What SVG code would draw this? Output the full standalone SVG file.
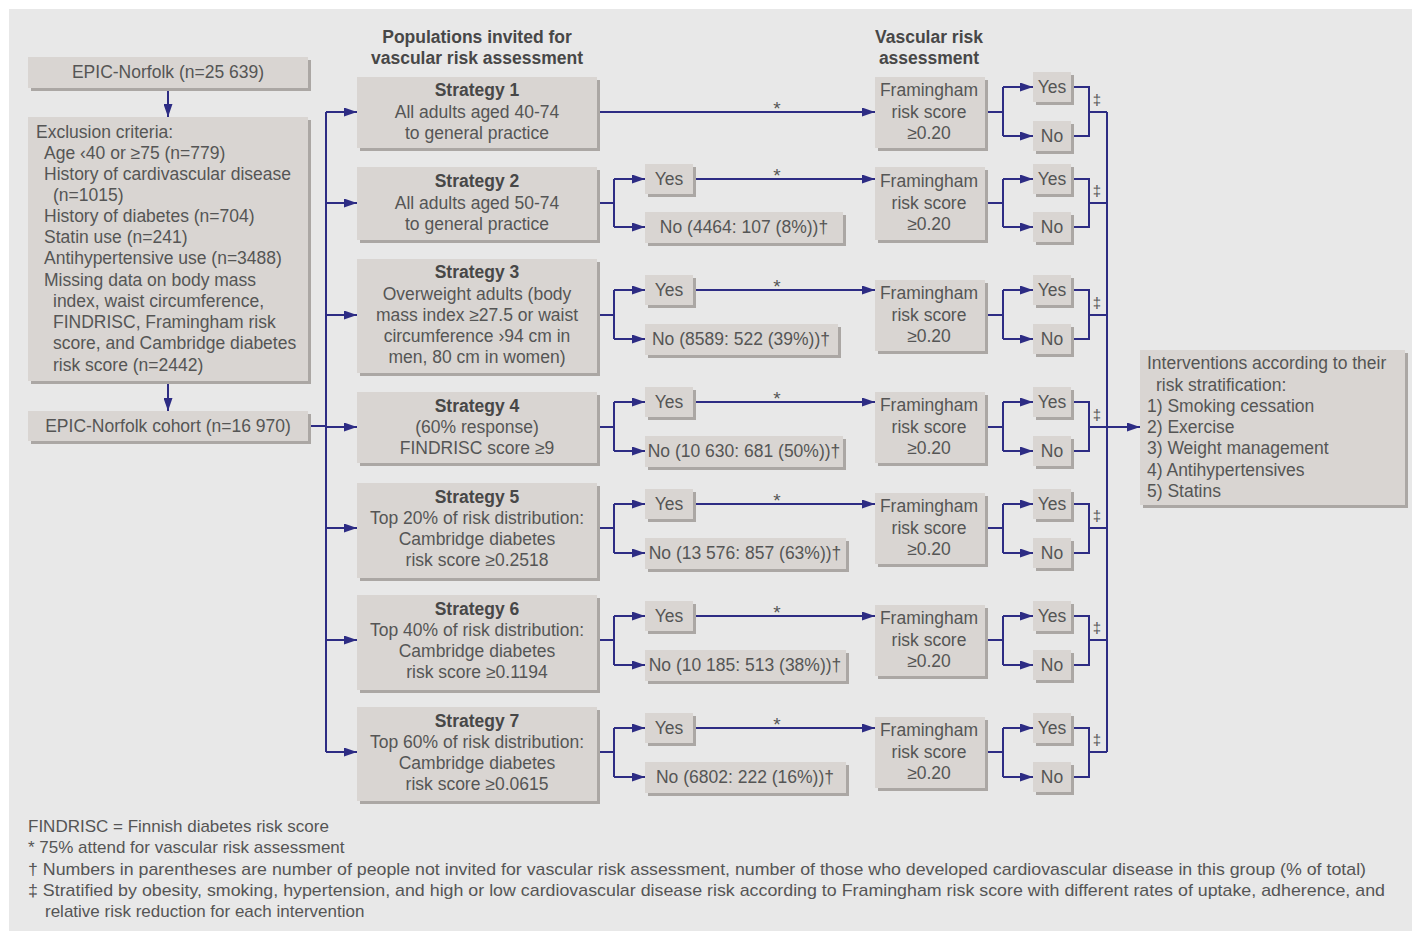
<svg xmlns="http://www.w3.org/2000/svg" width="1412" height="932" viewBox="0 0 1412 932">
<style>
.t{font-family:"Liberation Sans",Arial,sans-serif;font-size:17.5px;fill:#555555}
.c{text-anchor:middle}
.b{font-weight:bold;fill:#474747}
.fn{font-family:"Liberation Sans",Arial,sans-serif;font-size:17px;fill:#555555}
.ast{font-family:"Liberation Sans",Arial,sans-serif;font-size:19px;fill:#555555;text-anchor:middle}
.sym{font-family:"Liberation Sans",Arial,sans-serif;font-size:15px;fill:#555555;text-anchor:middle}
.box{fill:#d9d5d2}
.sh{fill:#aba7a4}
.ln{fill:none;stroke:#2d2c84;stroke-width:2}
.ar{fill:none;stroke:#2d2c84;stroke-width:2;marker-end:url(#ah)}
</style>
<defs>
<marker id="ah" markerUnits="userSpaceOnUse" markerWidth="13" markerHeight="9" refX="13" refY="4.5" orient="auto">
<path d="M0,0 L13,4.5 L0,9 z" fill="#2d2c84"/>
</marker>
</defs>
<rect x="0" y="0" width="1412" height="932" fill="#ffffff"/>
<rect x="9" y="9" width="1403" height="922" fill="#e8e8e8"/>

<g id="headers">
<text class="t c b" x="477" y="43">Populations invited for</text>
<text class="t c b" x="477" y="64">vascular risk assessment</text>
<text class="t c b" x="929" y="43">Vascular risk</text>
<text class="t c b" x="929" y="64">assessment</text>
</g>

<g id="connectors">
<path class="ar" d="M168,88 V117"/>
<path class="ar" d="M168,381 V411"/>
<path class="ln" d="M308,426 H326"/>
<path class="ln" d="M326,112 V752"/>
<path class="ar" d="M326,112 H357"/>
<path class="ar" d="M326,203 H357"/>
<path class="ar" d="M326,315 H357"/>
<path class="ar" d="M326,427 H357"/>
<path class="ar" d="M326,528 H357"/>
<path class="ar" d="M326,640 H357"/>
<path class="ar" d="M326,752 H357"/>
<path class="ar" d="M597,112 H875"/>
<path class="ln" d="M597,203 H614 M614,179 V227"/>
<path class="ar" d="M614,179 H645"/><path class="ar" d="M614,227 H645"/>
<path class="ar" d="M693,179 H875"/>
<path class="ln" d="M597,315 H614 M614,290 V339"/>
<path class="ar" d="M614,290 H645"/><path class="ar" d="M614,339 H645"/>
<path class="ar" d="M693,290 H875"/>
<path class="ln" d="M597,427 H614 M614,402 V451"/>
<path class="ar" d="M614,402 H645"/><path class="ar" d="M614,451 H645"/>
<path class="ar" d="M693,402 H875"/>
<path class="ln" d="M597,528 H614 M614,504 V553"/>
<path class="ar" d="M614,504 H645"/><path class="ar" d="M614,553 H645"/>
<path class="ar" d="M693,504 H875"/>
<path class="ln" d="M597,640 H614 M614,616 V665"/>
<path class="ar" d="M614,616 H645"/><path class="ar" d="M614,665 H645"/>
<path class="ar" d="M693,616 H875"/>
<path class="ln" d="M597,752 H614 M614,728 V777"/>
<path class="ar" d="M614,728 H645"/><path class="ar" d="M614,777 H645"/>
<path class="ar" d="M693,728 H875"/>
<path class="ln" d="M985,112 H1003 M1003,87 V136"/>
<path class="ar" d="M1003,87 H1033"/><path class="ar" d="M1003,136 H1033"/>
<path class="ln" d="M1071,87 H1089 V136 H1071 M1089,112 H1107"/>
<path class="ln" d="M985,203 H1003 M1003,179 V227"/>
<path class="ar" d="M1003,179 H1033"/><path class="ar" d="M1003,227 H1033"/>
<path class="ln" d="M1071,179 H1089 V227 H1071 M1089,203 H1107"/>
<path class="ln" d="M985,315 H1003 M1003,290 V339"/>
<path class="ar" d="M1003,290 H1033"/><path class="ar" d="M1003,339 H1033"/>
<path class="ln" d="M1071,290 H1089 V339 H1071 M1089,315 H1107"/>
<path class="ln" d="M985,427 H1003 M1003,402 V451"/>
<path class="ar" d="M1003,402 H1033"/><path class="ar" d="M1003,451 H1033"/>
<path class="ln" d="M1071,402 H1089 V451 H1071 M1089,427 H1107"/>
<path class="ln" d="M985,528 H1003 M1003,504 V553"/>
<path class="ar" d="M1003,504 H1033"/><path class="ar" d="M1003,553 H1033"/>
<path class="ln" d="M1071,504 H1089 V553 H1071 M1089,528 H1107"/>
<path class="ln" d="M985,640 H1003 M1003,616 V665"/>
<path class="ar" d="M1003,616 H1033"/><path class="ar" d="M1003,665 H1033"/>
<path class="ln" d="M1071,616 H1089 V665 H1071 M1089,640 H1107"/>
<path class="ln" d="M985,752 H1003 M1003,728 V777"/>
<path class="ar" d="M1003,728 H1033"/><path class="ar" d="M1003,777 H1033"/>
<path class="ln" d="M1071,728 H1089 V777 H1071 M1089,752 H1107"/>
<path class="ln" d="M1107,112 V752"/>
<path class="ar" d="M1107,427 H1140"/>
<text class="ast" x="777" y="115">*</text>
<text class="ast" x="777" y="182">*</text>
<text class="ast" x="777" y="293">*</text>
<text class="ast" x="777" y="405">*</text>
<text class="ast" x="777" y="507">*</text>
<text class="ast" x="777" y="619">*</text>
<text class="ast" x="777" y="731">*</text>
<text class="sym" x="1097" y="105">‡</text>
<text class="sym" x="1097" y="196">‡</text>
<text class="sym" x="1097" y="308">‡</text>
<text class="sym" x="1097" y="420">‡</text>
<text class="sym" x="1097" y="521">‡</text>
<text class="sym" x="1097" y="633">‡</text>
<text class="sym" x="1097" y="745">‡</text>
</g>

<g id="epic">
<rect class="sh" x="31" y="60" width="280" height="31"/><rect class="box" x="28" y="57" width="280" height="31"/>
<text class="t c" x="168" y="78">EPIC-Norfolk (n=25 639)</text>
</g>
<g id="exclusion">
<rect class="sh" x="31" y="120" width="280" height="264"/><rect class="box" x="28" y="117" width="280" height="264"/>
<text class="t" x="36" y="138">Exclusion criteria:</text>
<text class="t" x="44" y="159">Age ‹40 or ≥75 (n=779)</text>
<text class="t" x="44" y="180">History of cardivascular disease</text>
<text class="t" x="53" y="201">(n=1015)</text>
<text class="t" x="44" y="222">History of diabetes (n=704)</text>
<text class="t" x="44" y="243">Statin use (n=241)</text>
<text class="t" x="44" y="264">Antihypertensive use (n=3488)</text>
<text class="t" x="44" y="286">Missing data on body mass</text>
<text class="t" x="53" y="307">index, waist circumference,</text>
<text class="t" x="53" y="328">FINDRISC, Framingham risk</text>
<text class="t" x="53" y="349">score, and Cambridge diabetes</text>
<text class="t" x="53" y="371">risk score (n=2442)</text>
</g>
<g id="cohort">
<rect class="sh" x="31" y="414" width="280" height="30"/><rect class="box" x="28" y="411" width="280" height="30"/>
<text class="t c" x="168" y="432">EPIC-Norfolk cohort (n=16 970)</text>
</g>

<g id="strategy1">
<rect class="sh" x="360" y="80" width="240" height="71"/><rect class="box" x="357" y="77" width="240" height="71"/>
<text class="t c b" x="477" y="96">Strategy 1</text>
<text class="t c" x="477" y="118">All adults aged 40-74</text>
<text class="t c" x="477" y="139">to general practice</text>
</g>
<g id="strategy2">
<rect class="sh" x="360" y="170" width="240" height="73"/><rect class="box" x="357" y="167" width="240" height="73"/>
<text class="t c b" x="477" y="187">Strategy 2</text>
<text class="t c" x="477" y="209">All adults aged 50-74</text>
<text class="t c" x="477" y="230">to general practice</text>
</g>
<g id="strategy3">
<rect class="sh" x="360" y="262" width="240" height="114"/><rect class="box" x="357" y="259" width="240" height="114"/>
<text class="t c b" x="477" y="278">Strategy 3</text>
<text class="t c" x="477" y="300">Overweight adults (body</text>
<text class="t c" x="477" y="321">mass index ≥27.5 or waist</text>
<text class="t c" x="477" y="342">circumference ›94 cm in</text>
<text class="t c" x="477" y="363">men, 80 cm in women)</text>
</g>
<g id="strategy4">
<rect class="sh" x="360" y="395" width="240" height="71"/><rect class="box" x="357" y="392" width="240" height="71"/>
<text class="t c b" x="477" y="412">Strategy 4</text>
<text class="t c" x="477" y="433">(60% response)</text>
<text class="t c" x="477" y="454">FINDRISC score ≥9</text>
</g>
<g id="strategy5">
<rect class="sh" x="360" y="486" width="240" height="95"/><rect class="box" x="357" y="483" width="240" height="95"/>
<text class="t c b" x="477" y="503">Strategy 5</text>
<text class="t c" x="477" y="524">Top 20% of risk distribution:</text>
<text class="t c" x="477" y="545">Cambridge diabetes</text>
<text class="t c" x="477" y="566">risk score ≥0.2518</text>
</g>
<g id="strategy6">
<rect class="sh" x="360" y="598" width="240" height="95"/><rect class="box" x="357" y="595" width="240" height="95"/>
<text class="t c b" x="477" y="615">Strategy 6</text>
<text class="t c" x="477" y="636">Top 40% of risk distribution:</text>
<text class="t c" x="477" y="657">Cambridge diabetes</text>
<text class="t c" x="477" y="678">risk score ≥0.1194</text>
</g>
<g id="strategy7">
<rect class="sh" x="360" y="710" width="240" height="94"/><rect class="box" x="357" y="707" width="240" height="94"/>
<text class="t c b" x="477" y="727">Strategy 7</text>
<text class="t c" x="477" y="748">Top 60% of risk distribution:</text>
<text class="t c" x="477" y="769">Cambridge diabetes</text>
<text class="t c" x="477" y="790">risk score ≥0.0615</text>
</g>

<g id="invite-yes-no">
<rect class="sh" x="648" y="167" width="48" height="30"/><rect class="box" x="645" y="164" width="48" height="30"/>
<text class="t c" x="669" y="185">Yes</text>
<rect class="sh" x="648" y="215" width="198" height="31"/><rect class="box" x="645" y="212" width="198" height="31"/>
<text class="t c" x="744" y="233">No (4464: 107 (8%))†</text>
<rect class="sh" x="648" y="278" width="48" height="30"/><rect class="box" x="645" y="275" width="48" height="30"/>
<text class="t c" x="669" y="296">Yes</text>
<rect class="sh" x="648" y="327" width="193" height="31"/><rect class="box" x="645" y="324" width="193" height="31"/>
<text class="t c" x="741" y="345">No (8589: 522 (39%))†</text>
<rect class="sh" x="648" y="390" width="48" height="30"/><rect class="box" x="645" y="387" width="48" height="30"/>
<text class="t c" x="669" y="408">Yes</text>
<rect class="sh" x="648" y="439" width="198" height="31"/><rect class="box" x="645" y="436" width="198" height="31"/>
<text class="t c" x="744" y="457">No (10 630: 681 (50%))†</text>
<rect class="sh" x="648" y="492" width="48" height="30"/><rect class="box" x="645" y="489" width="48" height="30"/>
<text class="t c" x="669" y="510">Yes</text>
<rect class="sh" x="648" y="541" width="201" height="31"/><rect class="box" x="645" y="538" width="201" height="31"/>
<text class="t c" x="745" y="559">No (13 576: 857 (63%))†</text>
<rect class="sh" x="648" y="604" width="48" height="30"/><rect class="box" x="645" y="601" width="48" height="30"/>
<text class="t c" x="669" y="622">Yes</text>
<rect class="sh" x="648" y="653" width="201" height="31"/><rect class="box" x="645" y="650" width="201" height="31"/>
<text class="t c" x="745" y="671">No (10 185: 513 (38%))†</text>
<rect class="sh" x="648" y="716" width="48" height="30"/><rect class="box" x="645" y="713" width="48" height="30"/>
<text class="t c" x="669" y="734">Yes</text>
<rect class="sh" x="648" y="765" width="201" height="31"/><rect class="box" x="645" y="762" width="201" height="31"/>
<text class="t c" x="745" y="783">No (6802: 222 (16%))†</text>
</g>

<g id="framingham">
<rect class="sh" x="878" y="80" width="110" height="71"/><rect class="box" x="875" y="77" width="110" height="71"/>
<text class="t c" x="929" y="96">Framingham</text><text class="t c" x="929" y="118">risk score</text><text class="t c" x="929" y="139">≥0.20</text>
<rect class="sh" x="878" y="170" width="110" height="73"/><rect class="box" x="875" y="167" width="110" height="73"/>
<text class="t c" x="929" y="187">Framingham</text><text class="t c" x="929" y="209">risk score</text><text class="t c" x="929" y="230">≥0.20</text>
<rect class="sh" x="878" y="283" width="110" height="71"/><rect class="box" x="875" y="280" width="110" height="71"/>
<text class="t c" x="929" y="299">Framingham</text><text class="t c" x="929" y="321">risk score</text><text class="t c" x="929" y="342">≥0.20</text>
<rect class="sh" x="878" y="395" width="110" height="71"/><rect class="box" x="875" y="392" width="110" height="71"/>
<text class="t c" x="929" y="411">Framingham</text><text class="t c" x="929" y="433">risk score</text><text class="t c" x="929" y="454">≥0.20</text>
<rect class="sh" x="878" y="496" width="110" height="71"/><rect class="box" x="875" y="493" width="110" height="71"/>
<text class="t c" x="929" y="512">Framingham</text><text class="t c" x="929" y="534">risk score</text><text class="t c" x="929" y="555">≥0.20</text>
<rect class="sh" x="878" y="608" width="110" height="71"/><rect class="box" x="875" y="605" width="110" height="71"/>
<text class="t c" x="929" y="624">Framingham</text><text class="t c" x="929" y="646">risk score</text><text class="t c" x="929" y="667">≥0.20</text>
<rect class="sh" x="878" y="720" width="110" height="71"/><rect class="box" x="875" y="717" width="110" height="71"/>
<text class="t c" x="929" y="736">Framingham</text><text class="t c" x="929" y="758">risk score</text><text class="t c" x="929" y="779">≥0.20</text>
</g>

<g id="risk-yes-no">
<rect class="sh" x="1036" y="75" width="38" height="30"/><rect class="box" x="1033" y="72" width="38" height="30"/><text class="t c" x="1052" y="93">Yes</text>
<rect class="sh" x="1036" y="124" width="38" height="30"/><rect class="box" x="1033" y="121" width="38" height="30"/><text class="t c" x="1052" y="142">No</text>
<rect class="sh" x="1036" y="167" width="38" height="30"/><rect class="box" x="1033" y="164" width="38" height="30"/><text class="t c" x="1052" y="185">Yes</text>
<rect class="sh" x="1036" y="215" width="38" height="30"/><rect class="box" x="1033" y="212" width="38" height="30"/><text class="t c" x="1052" y="233">No</text>
<rect class="sh" x="1036" y="278" width="38" height="30"/><rect class="box" x="1033" y="275" width="38" height="30"/><text class="t c" x="1052" y="296">Yes</text>
<rect class="sh" x="1036" y="327" width="38" height="30"/><rect class="box" x="1033" y="324" width="38" height="30"/><text class="t c" x="1052" y="345">No</text>
<rect class="sh" x="1036" y="390" width="38" height="30"/><rect class="box" x="1033" y="387" width="38" height="30"/><text class="t c" x="1052" y="408">Yes</text>
<rect class="sh" x="1036" y="439" width="38" height="30"/><rect class="box" x="1033" y="436" width="38" height="30"/><text class="t c" x="1052" y="457">No</text>
<rect class="sh" x="1036" y="492" width="38" height="30"/><rect class="box" x="1033" y="489" width="38" height="30"/><text class="t c" x="1052" y="510">Yes</text>
<rect class="sh" x="1036" y="541" width="38" height="30"/><rect class="box" x="1033" y="538" width="38" height="30"/><text class="t c" x="1052" y="559">No</text>
<rect class="sh" x="1036" y="604" width="38" height="30"/><rect class="box" x="1033" y="601" width="38" height="30"/><text class="t c" x="1052" y="622">Yes</text>
<rect class="sh" x="1036" y="653" width="38" height="30"/><rect class="box" x="1033" y="650" width="38" height="30"/><text class="t c" x="1052" y="671">No</text>
<rect class="sh" x="1036" y="716" width="38" height="30"/><rect class="box" x="1033" y="713" width="38" height="30"/><text class="t c" x="1052" y="734">Yes</text>
<rect class="sh" x="1036" y="765" width="38" height="30"/><rect class="box" x="1033" y="762" width="38" height="30"/><text class="t c" x="1052" y="783">No</text>
</g>

<g id="interventions">
<rect class="sh" x="1143" y="353" width="265" height="155"/><rect class="box" x="1140" y="350" width="265" height="155"/>
<text class="t" x="1147" y="369">Interventions according to their</text>
<text class="t" x="1156" y="391">risk stratification:</text>
<text class="t" x="1147" y="412">1) Smoking cessation</text>
<text class="t" x="1147" y="433">2) Exercise</text>
<text class="t" x="1147" y="454">3) Weight management</text>
<text class="t" x="1147" y="476">4) Antihypertensives</text>
<text class="t" x="1147" y="497">5) Statins</text>
</g>

<g id="footnotes">
<text class="fn" x="28" y="832">FINDRISC = Finnish diabetes risk score</text>
<text class="fn" x="28" y="853">* 75% attend for vascular risk assessment</text>
<text class="fn" x="28" y="875" textLength="1338" lengthAdjust="spacingAndGlyphs">† Numbers in parentheses are number of people not invited for vascular risk assessment, number of those who developed cardiovascular disease in this group (% of total)</text>
<text class="fn" x="28" y="896" textLength="1357" lengthAdjust="spacingAndGlyphs">‡ Stratified by obesity, smoking, hypertension, and high or low cardiovascular disease risk according to Framingham risk score with different rates of uptake, adherence, and</text>
<text class="fn" x="45" y="917">relative risk reduction for each intervention</text>
</g>
</svg>
